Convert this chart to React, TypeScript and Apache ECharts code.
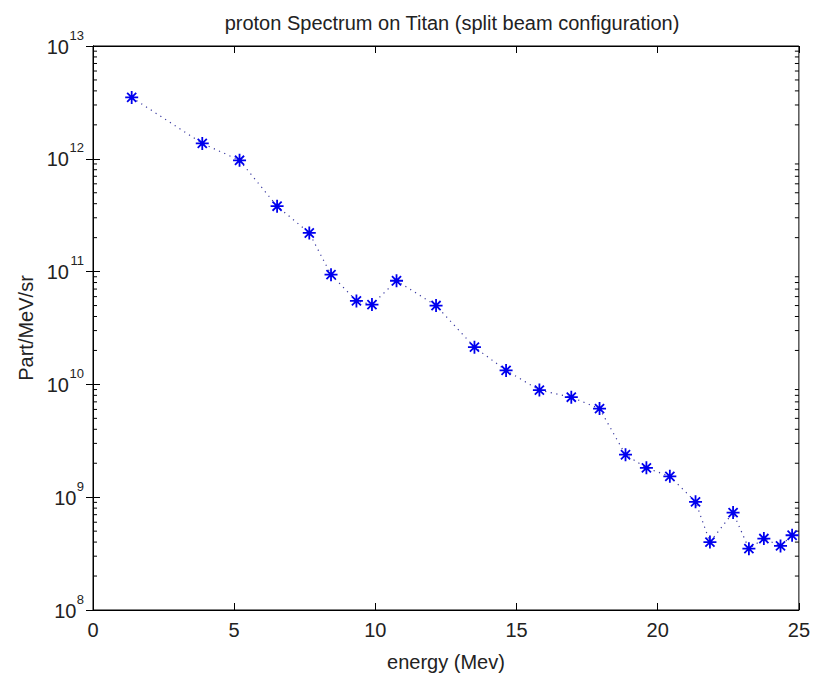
import React, { useEffect, useRef } from "react";
import * as echarts from "echarts";

const energy = [1.37, 3.87, 5.19, 6.52, 7.66, 8.43, 9.33, 9.88, 10.75, 12.15, 13.51, 14.63, 15.81, 16.94, 17.94, 18.86, 19.6, 20.43, 21.34, 21.85, 22.67, 23.23, 23.76, 24.35, 24.76];
const flux = [3.5e12, 1.37e12, 9.7e11, 3.8e11, 2.2e11, 9.4e10, 5.5e10, 5.1e10, 8.3e10, 5.0e10, 2.14e10, 1.33e10, 8.9e9, 7.7e9, 6.1e9, 2.38e9, 1.82e9, 1.53e9, 9.1e8, 4.0e8, 7.3e8, 3.5e8, 4.3e8, 3.7e8, 4.6e8];
const xTicks = [0, 5, 10, 15, 20, 25];
const yDecades = [8, 9, 10, 11, 12, 13];
const minorMultipliers = [2, 3, 4, 5, 6, 7, 8, 9];

const FONT = "'Liberation Sans', Arial, sans-serif";
const TXT = "#222";
const STAR = "path://M0 -6 L0 6 M-6 0 L6 0 M-4.2 -4.2 L4.2 4.2 M-4.2 4.2 L4.2 -4.2";

export default function App() {
  const ref = useRef<HTMLDivElement>(null);
  useEffect(() => {
    if (!ref.current) return;
    const chart = echarts.init(ref.current, null, { renderer: "svg" });
    const minorVals: number[] = [];
    for (let d = 0; d < yDecades.length - 1; d++) {
      for (const m of minorMultipliers) minorVals.push(m * Math.pow(10, yDecades[d]));
    }
    const supLabel = (v: number) => {
      const e = String(Math.round(Math.log10(v)));
      return "{s|" + e + "}\n{" + (e.length > 1 ? "b2" : "b1") + "|10}";
    };
    const rich = {
      b2: { fontSize: 20, fontFamily: FONT, color: TXT, lineHeight: 22, padding: [0, 15, 0, 0] },
      b1: { fontSize: 20, fontFamily: FONT, color: TXT, lineHeight: 22, padding: [0, 7.5, 0, 0] },
      s: { fontSize: 13, fontFamily: FONT, color: TXT, lineHeight: 1 },
    };
    chart.setOption({
      animation: false,
      backgroundColor: "#ffffff",
      title: {
        text: "proton Spectrum on Titan (split beam configuration)",
        left: 447,
        textAlign: "center",
        top: 8,
        textStyle: { fontFamily: FONT, fontSize: 20, fontWeight: "normal", color: TXT },
      },
      grid: { left: 93, right: 12, top: 46, bottom: 64, show: true, borderColor: "#000", borderWidth: 1, backgroundColor: "#fff" },
      xAxis: [
        {
          type: "value",
          min: xTicks[0],
          max: xTicks[xTicks.length - 1],
          interval: 5,
          name: "energy (Mev)",
          nameLocation: "middle",
          nameGap: 42,
          nameTextStyle: { fontFamily: FONT, fontSize: 20, color: TXT },
          axisLine: { show: true, lineStyle: { color: "#000", width: 1 } },
          axisTick: { show: true, inside: true, length: 7, lineStyle: { color: "#000" } },
          axisLabel: { fontFamily: FONT, fontSize: 20, color: TXT, margin: 10, showMinLabel: true, showMaxLabel: true },
          splitLine: { show: false },
        },
        {
          type: "value",
          position: "top",
          min: xTicks[0],
          max: xTicks[xTicks.length - 1],
          interval: 5,
          axisLine: { show: true, lineStyle: { color: "#000", width: 1 } },
          axisTick: { show: true, inside: true, length: 7, lineStyle: { color: "#000" } },
          axisLabel: { show: false },
          splitLine: { show: false },
        },
      ],
      yAxis: [
        {
          type: "log",
          logBase: 10,
          min: 1e8,
          max: 1e13,
          name: "Part/MeV/sr",
          nameLocation: "middle",
          nameGap: 51,
          nameTextStyle: { fontFamily: FONT, fontSize: 20, color: TXT },
          axisLine: { show: true, lineStyle: { color: "#000", width: 1 } },
          axisTick: { show: true, inside: true, length: 7, lineStyle: { color: "#000" } },
          axisLabel: { formatter: supLabel, rich, margin: 9 },
          splitLine: { show: false },
        },
        {
          type: "log",
          logBase: 10,
          min: 1e8,
          max: 1e13,
          position: "right",
          axisLine: { show: true, lineStyle: { color: "#000", width: 1 } },
          axisTick: { show: true, inside: true, length: 7, lineStyle: { color: "#000" } },
          axisLabel: { show: false },
          splitLine: { show: false },
        },
      ],
      series: [
        {
          type: "custom",
          xAxisIndex: 0,
          yAxisIndex: 0,
          silent: true,
          clip: false,
          data: minorVals.map((v) => [0, v]),
          renderItem: (params: any, api: any) => {
            const v = api.value(1);
            const l = api.coord([0, v]);
            const r = api.coord([25, v]);
            return {
              type: "group",
              children: [
                { type: "line", shape: { x1: l[0], y1: l[1], x2: l[0] + 4, y2: l[1] }, style: { stroke: "#000", lineWidth: 1 } },
                { type: "line", shape: { x1: r[0], y1: r[1], x2: r[0] - 4, y2: r[1] }, style: { stroke: "#000", lineWidth: 1 } },
              ],
            };
          },
        },
        {
          type: "line",
          xAxisIndex: 0,
          yAxisIndex: 0,
          data: energy.map((e, i) => [e, flux[i]]),
          symbol: STAR,
          symbolSize: 13,
          showSymbol: true,
          lineStyle: { color: "#3a3aa0", width: 1.2, type: [1.2, 4.5] },
          itemStyle: { color: "#0000ee", borderColor: "#0000ee", borderWidth: 1.8 },
        },
      ],
    });
    return () => chart.dispose();
  }, []);
  return <div ref={ref} style={{ position: "fixed", left: 0, top: 0, width: 813, height: 677 }} />;
}
